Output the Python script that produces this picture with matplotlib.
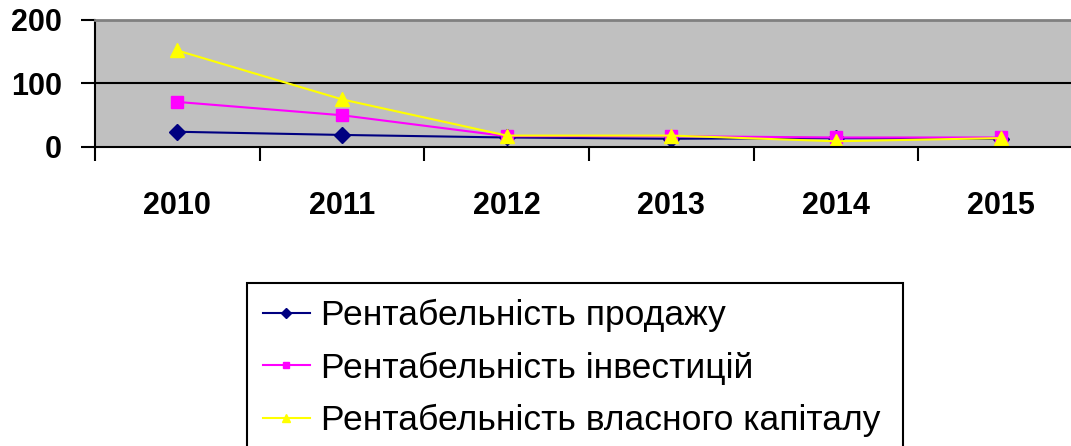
import numpy as np
import matplotlib.pyplot as plt
from matplotlib.ticker import FixedLocator

years = ['2010', '2011', '2012', '2013', '2014', '2015']
sales = [24, 19, 15, 13, 14, 13]
invest = [71, 50, 17, 17, 15, 15]
equity = [152, 75, 18, 18, 9, 14]
labels = ['Рентабельність продажу', 'Рентабельність інвестицій',
          'Рентабельність власного капіталу']

plt.rcParams['font.family'] = ['Liberation Sans', 'DejaVu Sans']

fig = plt.figure(figsize=(10.71, 4.46), dpi=100)
# plot area runs a bit past the right edge, as in the picture
ax = fig.add_axes([95 / 1071, 1 - 147 / 446, 988 / 1071, 127 / 446])
ax.set_facecolor('#c0c0c0')

x = np.arange(len(years))
ax.plot(x, sales, color='#000080', marker='D', markersize=8, lw=1.5, label=labels[0])
ax.plot(x, invest, color='#ff00ff', marker='s', markersize=8, lw=1.5, label=labels[1])
ax.plot(x, equity, color='#ffff00', marker='^', markersize=10, lw=1.5, label=labels[2])

ax.set_xlim(-0.5, len(years) - 0.5)
ax.set_ylim(0, 200)
ax.set_yticks([0, 100, 200])
ax.axhline(100, color='black', lw=1.5, zorder=1)

ax.set_xticks(x)
ax.set_xticklabels(years, fontsize=22, fontweight='bold')
ax.xaxis.set_minor_locator(FixedLocator(np.arange(-0.5, len(years), 1.0)))
ax.tick_params(axis='x', which='major', length=0, pad=32)
ax.tick_params(axis='x', which='minor', length=10, width=1.5, direction='out')
ax.tick_params(axis='y', length=10, width=1.5, pad=14, labelsize=22)
for t in ax.get_yticklabels():
    t.set_fontweight('bold')

for s in ['left', 'bottom']:
    ax.spines[s].set_linewidth(1.5)
ax.spines['top'].set_color('#808080')
ax.spines['top'].set_linewidth(2)
ax.spines['right'].set_visible(False)

leg = fig.legend(loc='upper left', bbox_to_anchor=(247 / 1071, 1 - 283 / 446, 656 / 1071, 0),
                 mode='expand', fontsize=25.5, fancybox=False, edgecolor='black',
                 framealpha=1, handlelength=1.33, handletextpad=0.3,
                 labelspacing=0.55, borderpad=0.45, markerscale=0.6, borderaxespad=0)
leg.get_frame().set_linewidth(1.5)

fig.savefig('out.png', dpi=100)
